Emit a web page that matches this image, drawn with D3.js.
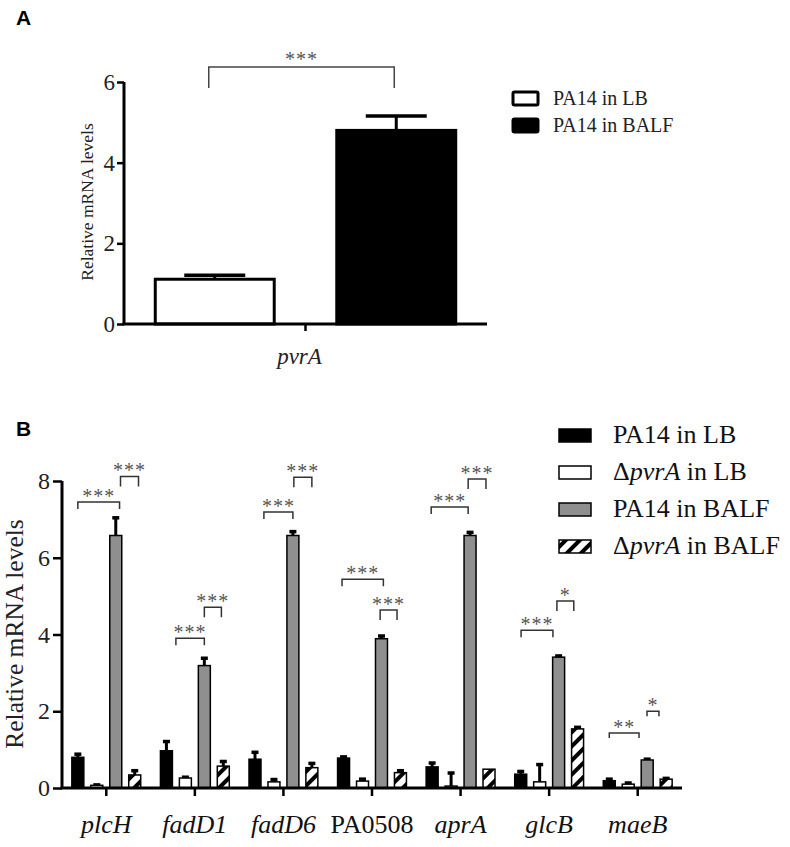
<!DOCTYPE html>
<html><head><meta charset="utf-8">
<script src="https://cdn.jsdelivr.net/npm/d3@7"></script>
<style>
body{margin:0;background:#fff;}
svg{display:block;}
</style></head>
<body>
<svg id="chart" width="790" height="847"></svg>
<script>
// ---------- Panel A data ----------
const seriesA = ["PA14 in LB", "PA14 in BALF"];
const categoryA = "pvrA";
const valuesA = [1.11, 4.80];
const errorsA = [0.10, 0.36];
const ticksA = [0, 2, 4, 6];
const bracketA = {from: 0, to: 1, y: 6.37, label: "***"};

// ---------- Panel B data ----------
const genes = ["plcH", "fadD1", "fadD6", "PA0508", "aprA", "glcB", "maeB"];
const geneItalic = [true, true, true, false, true, true, true];
const seriesB = ["PA14 in LB", "ΔpvrA in LB", "PA14 in BALF", "ΔpvrA in BALF"];
const wtLB      = [0.80, 0.97, 0.75, 0.78, 0.55, 0.36, 0.19];
const wtLBErr   = [0.12, 0.28, 0.22, 0.07, 0.14, 0.11, 0.08];
const mutLB     = [0.07, 0.26, 0.16, 0.18, 0.05, 0.16, 0.10];
const mutLBErr  = [0.05, 0.06, 0.10, 0.09, 0.38, 0.49, 0.07];
const wtBALF    = [6.58, 3.19, 6.58, 3.89, 6.58, 3.41, 0.73];
const wtBALFErr = [0.50, 0.23, 0.14, 0.11, 0.12, 0.07, 0.06];
const mutBALF   = [0.34, 0.57, 0.53, 0.40, 0.49, 1.54, 0.23];
const mutBALFErr= [0.15, 0.16, 0.15, 0.09, 0.00, 0.08, 0.06];
const ticksB = [0, 2, 4, 6, 8];
// brackets: gene, start slot, end slot (series index units), height, label
const bracketsB = [
  ["plcH", 0.0, 2.2, 7.45, "***"], ["plcH", 2.25, 3.2, 8.12, "***"],
  ["fadD1", 0.5, 2.0, 3.90, "***"], ["fadD1", 2.0, 2.9, 4.71, "***"],
  ["fadD6", 0.47, 2.0, 7.19, "***"], ["fadD6", 2.05, 3.0, 8.10, "***"],
  ["PA0508", -0.08, 2.1, 5.44, "***"], ["PA0508", 1.93, 2.82, 4.64, "***"],
  ["aprA", -0.05, 1.9, 7.32, "***"], ["aprA", 1.9, 2.84, 8.05, "***"],
  ["glcB", 0.02, 1.7, 4.11, "***"], ["glcB", 1.91, 2.8, 4.87, "*"],
  ["maeB", 0.0, 1.57, 1.43, "**"], ["maeB", 1.99, 2.62, 2.00, "*"]
];

const SERIF = "'Liberation Serif', 'Times New Roman', Times, serif";
const svg = d3.select("#chart").attr("font-family", SERIF);

// pattern for hatched bars
const defs = svg.append("defs");
const pat = defs.append("pattern").attr("id", "hatch")
  .attr("patternUnits", "userSpaceOnUse").attr("width", 10).attr("height", 10)
  .attr("patternTransform", "rotate(45)");
pat.append("rect").attr("width", 10).attr("height", 10).attr("fill", "#fff");
pat.append("rect").attr("x", 0).attr("y", 0).attr("width", 4).attr("height", 10).attr("fill", "#000");

// ================= Panel A =================
const yA = d3.scaleLinear().domain([0, 6]).range([324, 82]);
const xA = d3.scaleBand().domain(seriesA).range([124, 487]).paddingInner(0.328).paddingOuter(0.164);
const gA = svg.append("g");

const fillA = ["#fff", "#000"];
seriesA.forEach((s, i) => {
  gA.append("rect").attr("x", xA(s) + 1.5).attr("y", yA(valuesA[i]))
    .attr("width", xA.bandwidth() - 3).attr("height", yA(0) - yA(valuesA[i]))
    .attr("fill", fillA[i]).attr("stroke", "#000").attr("stroke-width", 3);
  const cx = xA(s) + xA.bandwidth() / 2;
  gA.append("line").attr("x1", cx).attr("x2", cx).attr("y1", yA(valuesA[i])).attr("y2", yA(valuesA[i] + errorsA[i]))
    .attr("stroke", "#000").attr("stroke-width", 3);
  gA.append("line").attr("x1", cx - xA.bandwidth() / 4).attr("x2", cx + xA.bandwidth() / 4)
    .attr("y1", yA(valuesA[i] + errorsA[i])).attr("y2", yA(valuesA[i] + errorsA[i]))
    .attr("stroke", "#000").attr("stroke-width", 3.5);
});

const axA = gA.append("g").attr("transform", "translate(124,0)")
  .call(d3.axisLeft(yA).tickValues(ticksA).tickSize(7).tickPadding(2).tickFormat(d3.format("d")));
axA.attr("font-family", SERIF).attr("font-size", 23);
axA.select(".domain").attr("stroke-width", 3).attr("d", `M0,${yA(6)}V${yA(0)}`);
axA.selectAll(".tick line").attr("stroke-width", 2.5);
axA.selectAll(".tick text").attr("fill", "#222");
gA.append("line").attr("x1", 122.5).attr("x2", 487).attr("y1", yA(0)).attr("y2", yA(0))
  .attr("stroke", "#000").attr("stroke-width", 3);
const xCenterA = (xA(seriesA[0]) + xA(seriesA[1]) + xA.bandwidth()) / 2;
gA.append("line").attr("x1", xCenterA).attr("x2", xCenterA).attr("y1", yA(0)).attr("y2", yA(0) + 7)
  .attr("stroke", "#000").attr("stroke-width", 2.5);
gA.append("text").attr("x", xCenterA - 6).attr("y", 364).attr("text-anchor", "middle")
  .attr("font-size", 23).attr("font-style", "italic").attr("fill", "#222").text(categoryA);
gA.append("text").attr("transform", "translate(93,202) rotate(-90)").attr("text-anchor", "middle")
  .attr("font-size", 17.5).attr("fill", "#222").text("Relative mRNA levels");

{
  const x1 = xA(seriesA[bracketA.from]) + xA.bandwidth() / 2 - 6;
  const x2 = xA(seriesA[bracketA.to]) + xA.bandwidth() / 2 - 2;
  const yb = yA(bracketA.y);
  gA.append("path").attr("d", `M${x1},${yb + 21}V${yb}H${x2}V${yb + 21}`)
    .attr("fill", "none").attr("stroke", "#444").attr("stroke-width", 1.5);
  gA.append("text").attr("x", (x1 + x2) / 2).attr("y", yb - 1).attr("text-anchor", "middle")
    .attr("font-size", 20).attr("letter-spacing", 1).attr("fill", "#555").text(bracketA.label);
}

const legA = svg.append("g");
seriesA.forEach((s, i) => {
  legA.append("rect").attr("x", 513).attr("y", 92 + i * 27).attr("width", 25).attr("height", 13).attr("rx", 1.5)
    .attr("fill", fillA[i]).attr("stroke", "#000").attr("stroke-width", 3);
  legA.append("text").attr("x", 553).attr("y", 105 + i * 27).attr("font-size", 20).attr("fill", "#222").text(s);
});

// ================= Panel B =================
const yB = d3.scaleLinear().domain([0, 8]).range([788, 481]);
const x0 = d3.scaleBand().domain(genes).range([62, 682]);
const x1 = d3.scaleBand().domain(d3.range(4)).range([0, x0.bandwidth()]).paddingInner(0.368).paddingOuter(0.52);
const slot = i => x1(0) + i * x1.step() + x1.bandwidth() / 2;

const meansB = [wtLB, mutLB, wtBALF, mutBALF];
const errsB = [wtLBErr, mutLBErr, wtBALFErr, mutBALFErr];
const fillsB = ["#000", "#fff", "#8f8f8f", "url(#hatch)"];
const gB = svg.append("g");

genes.forEach((g, gi) => {
  d3.range(4).forEach(si => {
    const v = meansB[si][gi], e = errsB[si][gi];
    const bx = x0(g) + x1(si);
    const cx = bx + x1.bandwidth() / 2;
    if (e > 0) {
      gB.append("line").attr("x1", cx).attr("x2", cx).attr("y1", yB(v)).attr("y2", yB(v + e) + 1.5)
        .attr("stroke", "#000").attr("stroke-width", 3);
      gB.append("line").attr("x1", cx - 3.5).attr("x2", cx + 3.5).attr("y1", yB(v + e) + 1.5).attr("y2", yB(v + e) + 1.5)
        .attr("stroke", "#000").attr("stroke-width", 3.5);
    }
    gB.append("rect").attr("x", bx).attr("y", yB(v)).attr("width", x1.bandwidth()).attr("height", yB(0) - yB(v))
      .attr("fill", fillsB[si]).attr("stroke", "#000").attr("stroke-width", 1.5);
  });
});

const axB = gB.append("g").attr("transform", "translate(62,0)")
  .call(d3.axisLeft(yB).tickValues(ticksB).tickSize(9).tickPadding(3).tickFormat(d3.format("d")));
axB.attr("font-family", SERIF).attr("font-size", 24);
axB.select(".domain").attr("stroke-width", 3).attr("d", `M0,${yB(8)}V${yB(0)}`);
axB.selectAll(".tick line").attr("stroke-width", 2.5);
axB.selectAll(".tick text").attr("fill", "#222");
gB.append("line").attr("x1", 60.5).attr("x2", 682).attr("y1", yB(0)).attr("y2", yB(0))
  .attr("stroke", "#000").attr("stroke-width", 3);
genes.forEach((g, gi) => {
  const cx = x0(g) + x0.bandwidth() / 2;
  gB.append("line").attr("x1", cx).attr("x2", cx).attr("y1", yB(0)).attr("y2", yB(0) + 8)
    .attr("stroke", "#000").attr("stroke-width", 2.5);
  gB.append("text").attr("x", cx).attr("y", 833).attr("text-anchor", "middle")
    .attr("font-size", 26).attr("font-style", geneItalic[gi] ? "italic" : "normal").attr("fill", "#111").text(g);
});
gB.append("text").attr("transform", "translate(23,634) rotate(-90)").attr("text-anchor", "middle")
  .attr("font-size", 25.5).attr("fill", "#222").text("Relative mRNA levels");

bracketsB.forEach(([g, a, b, yv, lab], k) => {
  const xa = x0(g) + slot(a), xb = x0(g) + slot(b);
  const yb = yB(yv);
  const drop = g === "maeB" ? 5 : (k % 2 === 0 ? 7 : 10);
  gB.append("path").attr("d", `M${xa},${yb + drop}V${yb}H${xb}V${yb + drop}`)
    .attr("fill", "none").attr("stroke", "#333").attr("stroke-width", 1.5);
  gB.append("text").attr("x", (xa + xb) / 2).attr("y", yb + 1).attr("text-anchor", "middle")
    .attr("font-size", 20).attr("letter-spacing", 1).attr("fill", "#555").text(lab);
});

const legB = svg.append("g");
seriesB.forEach((s, i) => {
  const y = 429 + i * 37;
  legB.append("rect").attr("x", 559).attr("y", y).attr("width", 32).attr("height", 13)
    .attr("fill", fillsB[i]).attr("stroke", "#000").attr("stroke-width", 1.5);
  const t = legB.append("text").attr("x", 613).attr("y", y + 14).attr("font-size", 26).attr("fill", "#111");
  if (s.startsWith("Δ")) {
    t.append("tspan").text("Δ");
    t.append("tspan").attr("font-style", "italic").text("pvrA");
    t.append("tspan").text(s.slice(5));
  } else {
    t.text(s);
  }
});

// panel letters
svg.append("text").attr("x", 16).attr("y", 25).text("A")
  .attr("font-family", "'Liberation Sans', Arial, sans-serif").attr("font-weight", "bold").attr("font-size", 21);
svg.append("text").attr("x", 16).attr("y", 436).text("B")
  .attr("font-family", "'Liberation Sans', Arial, sans-serif").attr("font-weight", "bold").attr("font-size", 21);
</script>
</body></html>
